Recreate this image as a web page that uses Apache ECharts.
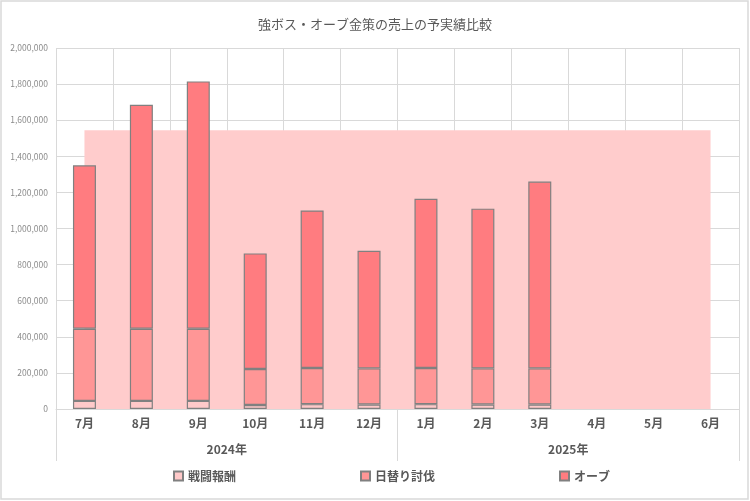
<!DOCTYPE html>
<html>
<head>
<meta charset="utf-8">
<script src="https://cdn.jsdelivr.net/npm/echarts@6/dist/echarts.min.js"></script>
<style>
  html, body { margin: 0; padding: 0; background: #fff; }
  #chart { width: 750px; height: 501px; }
</style>
</head>
<body>
<div id="chart"></div>
<script>
// 強ボス・オーブ金策 売上の予実績比較

var months = ['7月', '8月', '9月', '10月', '11月', '12月', '1月', '2月', '3月', '4月', '5月', '6月'];
var years = ['2024年', '2025年'];

// 実績 (stacked)
var battleReward = [45000, 45000, 45000, 22000, 27000, 25000, 27000, 25000, 25000, null, null, null];
var dailyHunt = [400000, 400000, 400000, 200000, 200000, 200000, 200000, 200000, 200000, null, null, null];
var orb = [905000, 1240000, 1370000, 640000, 873000, 652000, 938000, 885000, 1035000, null, null, null];

// 予算 (background area)
var budget = [1545000, 1545000, 1545000, 1545000, 1545000, 1545000, 1545000, 1545000, 1545000, 1545000, 1545000, 1545000];

var font = 'Noto Sans CJK JP';
var gridColor = '#D9D9D9';
var textColor = '#595959';

var chart = echarts.init(document.getElementById('chart'));

function fmt(v) {
    return String(v).replace(/\B(?=(\d{3})+(?!\d))/g, ',');
}

var barBorder = { borderColor: '#808080', borderWidth: 1.2 };

var option = {
    animation: false,
    textStyle: { fontFamily: font },
    title: {
        text: '強ボス・オーブ金策の売上の予実績比較',
        left: 'center',
        top: 13,
        textStyle: { fontSize: 13, fontWeight: 'normal', color: textColor, fontFamily: font }
    },
    graphic: [{
        type: 'rect',
        shape: { x: 1, y: 1, width: 747, height: 498 },
        style: { fill: 'none', stroke: gridColor, lineWidth: 1.5 },
        silent: true
    }],
    legend: {
        data: ['戦闘報酬', '日替り討伐', 'オーブ'],
        left: 168,
        top: 465,
        itemWidth: 9,
        itemHeight: 9,
        itemGap: 124,
        icon: 'rect',
        textStyle: { fontSize: 12, fontWeight: 'bold', color: textColor, fontFamily: font }
    },
    grid: { left: 56, right: 11, top: 48, bottom: 92 },
    xAxis: [
        {
            type: 'category',
            data: months,
            boundaryGap: true,
            axisLine: { show: true, lineStyle: { color: gridColor } },
            axisTick: { show: false },
            axisLabel: { margin: 8, fontSize: 12, fontWeight: 'bold', color: textColor, fontFamily: font },
            splitLine: { show: true, lineStyle: { color: gridColor } }
        },
        {
            type: 'category',
            data: years,
            position: 'bottom',
            boundaryGap: true,
            axisLine: { show: false },
            axisTick: { show: true, length: 52, lineStyle: { color: gridColor } },
            axisLabel: { margin: 34, fontSize: 12, fontWeight: 'bold', color: textColor, fontFamily: font },
            splitLine: { show: false }
        }
    ],
    yAxis: {
        type: 'value',
        min: 0,
        max: 2000000,
        interval: 200000,
        axisLine: { show: false },
        axisTick: { show: false },
        axisLabel: { fontSize: 8.5, color: '#8C8C8C', margin: 8, formatter: fmt, fontFamily: font },
        splitLine: { lineStyle: { color: gridColor } }
    },
    series: [
        {
            name: '予算',
            type: 'line',
            data: budget,
            z: 1,
            symbol: 'none',
            lineStyle: { width: 0 },
            areaStyle: { color: '#FFCCCC', opacity: 1 },
            silent: true
        },
        {
            name: '戦闘報酬',
            type: 'bar',
            stack: 'actual',
            barWidth: 23,
            data: battleReward,
            z: 3,
            itemStyle: Object.assign({ color: '#FFC9C9' }, barBorder)
        },
        {
            name: '日替り討伐',
            type: 'bar',
            stack: 'actual',
            barWidth: 23,
            data: dailyHunt,
            z: 3,
            itemStyle: Object.assign({ color: '#FF9696' }, barBorder)
        },
        {
            name: 'オーブ',
            type: 'bar',
            stack: 'actual',
            barWidth: 23,
            data: orb,
            z: 3,
            itemStyle: Object.assign({ color: '#FF7C80' }, barBorder)
        }
    ]
};

chart.setOption(option);
</script>
</body>
</html>
